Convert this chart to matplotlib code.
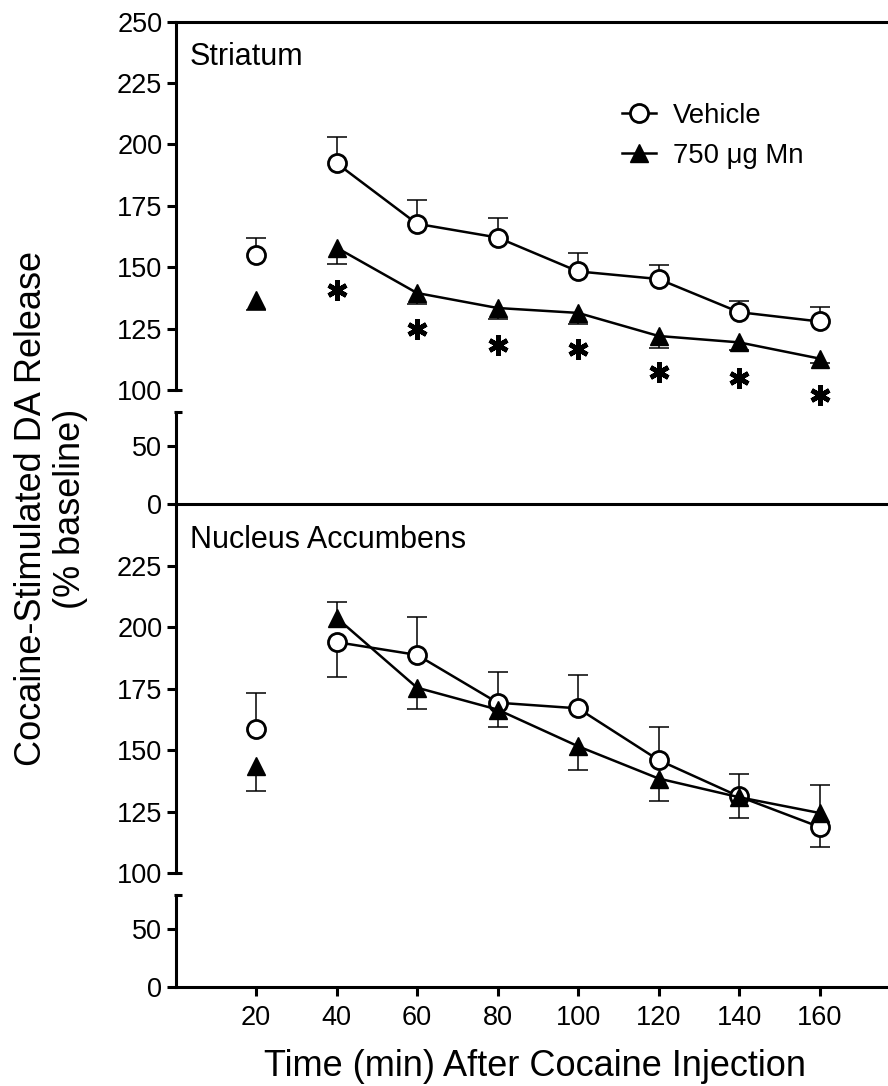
import numpy as np
import matplotlib.pyplot as plt
from matplotlib.lines import Line2D

plt.rcParams['font.family'] = ['Liberation Sans', 'DejaVu Sans']

# time points (min after cocaine)
time = [20, 40, 60, 80, 100, 120, 140, 160]
xticks = [20, 40, 60, 80, 100, 120, 140, 160]

# Striatum
str_veh = [155.0, 192.4, 167.7, 162.1, 148.3, 145.2, 131.7, 127.9]
str_veh_sem = [7.0, 10.6, 9.6, 7.9, 7.4, 5.7, 4.7, 5.8]
str_veh_dir = [1, 1, 1, 1, 1, 1, 1, 1]
str_mn = [136.7, 158.0, 139.5, 133.4, 131.4, 122.0, 119.4, 112.8]
str_mn_sem = [4.3, 6.6, 4.3, 4.4, 4.4, 5.0, 3.0, 2.0]
str_mn_dir = [-1, -1, -1, -1, -1, -1, -1, -1]
str_sig_time = [40, 60, 80, 100, 120, 140, 160]
str_sig_y = [140.8, 124.9, 118.4, 116.8, 107.3, 104.9, 98.0]

# Nucleus accumbens
acc_veh = [158.7, 193.9, 188.7, 169.3, 167.0, 146.0, 131.2, 118.8]
acc_veh_sem = [14.7, 14.2, 15.2, 12.3, 13.5, 13.5, 9.1, 8.0]
acc_veh_dir = [1, -1, 1, 1, 1, 1, 1, -1]
acc_mn = [143.7, 203.8, 175.4, 166.5, 151.6, 138.5, 130.9, 124.5]
acc_mn_sem = [10.3, 6.3, 8.8, 7.1, 9.5, 9.2, 8.3, 11.3]
acc_mn_dir = [-1, 1, -1, -1, -1, -1, -1, 1]

W, H = 888, 1086
fig = plt.figure(figsize=(W / 100, H / 100), dpi=100)

left = 175.5 / W
width = 1 - left


def box(top_px, bot_px):
    return [left, 1 - bot_px / H, width, (bot_px - top_px) / H]


ax1u = fig.add_axes(box(21.7, 390))
ax1l = fig.add_axes(box(412, 504))
ax2u = fig.add_axes(box(504, 873.3))
ax2l = fig.add_axes(box(895, 986.7))

LW = 2.2
for ax in (ax1u, ax1l, ax2u, ax2l):
    ax.set_xlim(0, 177)
    ax.patch.set_alpha(0)
    for s in ax.spines.values():
        s.set_linewidth(LW)
        s.set_visible(False)
    ax.spines['left'].set_visible(True)
    ax.tick_params(axis='y', direction='out', length=6.5, width=LW, labelsize=19.5, pad=3)
    ax.tick_params(axis='x', direction='out', length=6.5, width=LW, labelsize=19.5, pad=7)
    ax.set_xticks([])

for ax in (ax1u, ax2u):
    ax.set_ylim(100, 250)
    # break marker at 100
    ax.plot([0, 0.0085], [100, 100], transform=ax.get_yaxis_transform(),
            color='black', lw=LW, clip_on=False, solid_capstyle='butt')
for ax in (ax1l, ax2l):
    ax.set_ylim(0, 80)
    ax.set_yticks([0, 50])
    ax.spines['bottom'].set_visible(True)
    ax.plot([-0.002, 0.0085], [80, 80], transform=ax.get_yaxis_transform(),
            color='black', lw=LW, clip_on=False, solid_capstyle='butt')

ax1u.spines['top'].set_visible(True)
ax1u.set_yticks([100, 125, 150, 175, 200, 225, 250])
ax2u.set_yticks([100, 125, 150, 175, 200, 225])
ax2l.set_xticks(xticks)


def err(ax, y, sem, direction, z):
    t = np.array(time)
    y = np.array(y)
    end = y + np.array(direction) * np.array(sem)
    ax.vlines(t, y, end, colors='black', lw=1.1, zorder=z, clip_on=False)
    ax.plot(t, end, ls='none', marker='_', ms=15, mew=1.1, color='black',
            zorder=z, clip_on=False)


def series(ax, veh, veh_sem, veh_dir, mn, mn_sem, mn_dir):
    err(ax, veh, veh_sem, veh_dir, 2)
    err(ax, mn, mn_sem, mn_dir, 2)
    ax.plot(time[1:], veh[1:], '-', color='black', lw=1.8, zorder=3, clip_on=False)
    ax.plot(time, veh, ls='none', marker='o', ms=13, mfc='white', mec='black',
            mew=2, zorder=3.5, clip_on=False)
    ax.plot(time[1:], mn[1:], '-', color='black', lw=1.8, zorder=4, clip_on=False)
    ax.plot(time, mn, ls='none', marker='^', ms=13, mfc='black', mec='black',
            mew=1, zorder=4.5, clip_on=False)


series(ax1u, str_veh, str_veh_sem, str_veh_dir, str_mn, str_mn_sem, str_mn_dir)
series(ax2u, acc_veh, acc_veh_sem, acc_veh_dir, acc_mn, acc_mn_sem, acc_mn_dir)

# significance asterisks
ax1u.plot(str_sig_time, str_sig_y, ls='none', marker=(6, 2, 0), ms=14.5, mew=3.4,
          color='black', clip_on=False, zorder=5)

# panel labels
fig.text(190 / W, 1 - 65 / H, 'Striatum', fontsize=22, va='baseline', ha='left')
fig.text(190 / W, 1 - 547.5 / H, 'Nucleus Accumbens', fontsize=22, va='baseline', ha='left')

# legend
handles = [
    Line2D([], [], color='black', lw=1.8, marker='o', ms=13, mfc='white', mec='black', mew=2),
    Line2D([], [], color='black', lw=1.8, marker='^', ms=13, mfc='black', mec='black', mew=1),
]
fig.legend(handles, ['Vehicle', '750 \u03bcg Mn'], loc='upper left',
           bbox_to_anchor=(622 / W, 1 - 103 / H), bbox_transform=fig.transFigure,
           frameon=False, fontsize=19.8, handlelength=1.25, handletextpad=0.6,
           labelspacing=0.5, borderpad=0, borderaxespad=0)

# axis labels
fig.text(0.057, 1 - 508.5 / H, 'Cocaine-Stimulated DA Release\n(% baseline)',
         rotation=90, fontsize=26, ha='center', va='center', multialignment='center',
         linespacing=1.15)
fig.text(535 / W, 1 - 1076 / H, 'Time (min) After Cocaine Injection',
         fontsize=26, ha='center', va='baseline')

fig.savefig('out.png', dpi=100)
